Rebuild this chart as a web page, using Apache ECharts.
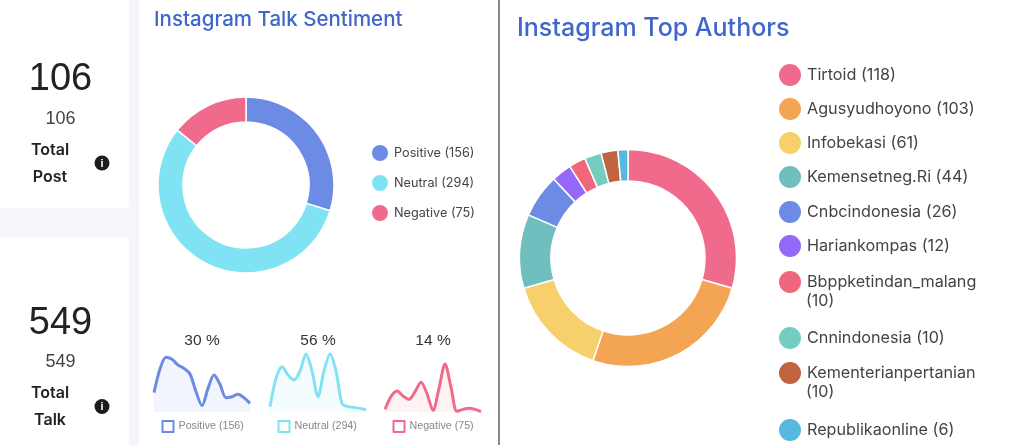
<!DOCTYPE html>
<html><head><meta charset="utf-8">
<style>html,body{margin:0;padding:0;background:#f4f6fb}#c{width:1024px;height:445px}</style>
<script src="https://cdn.jsdelivr.net/npm/echarts@6/dist/echarts.min.js"></script>
</head><body><div id="c"></div>
<script>
const sentimentNames = ['Positive','Neutral','Negative'];
const sentimentValues = [156,294,75];
const sentimentColors = ['#6b8be4','#80e3f3','#f06b8b'];
const sentimentPercents = ['30 %','56 %','14 %'];
const positiveTrend = [57,128,163,157,140,130,113,60,18,70,110,82,42,45,52,42,25];
const neutralTrend = [15,100,135,110,95,122,173,122,45,122,173,122,25,15,13,10,6];
const negativeTrend = [7,45,62,47,37,60,88,54,4,70,143,74,1,7,10,7,0];
const trendSteps = ['1','2','3','4','5','6','7','8','9','10','11','12','13','14','15','16','17'];
const authorNames = ['Tirtoid','Agusyudhoyono','Infobekasi','Kemensetneg.Ri','Cnbcindonesia','Hariankompas','Bbppketindan_malang','Cnnindonesia','Kementerianpertanian','Republikaonline'];
const authorValues = [118,103,61,44,26,12,10,10,10,6];
const authorColors = ['#f06b8b','#f4a553','#f8d06b','#6fbfbf','#6b8be4','#9468f8','#f0667a','#75cdc2','#c0643f','#55b9e0'];
const authorWrapped = [6,8];
const authorRows = [74,108,142,176,211,245,281,337,372,429];
const trends = [positiveTrend,neutralTrend,negativeTrend];
const statCards = [
  {big:'106',small:'106',l1:'Total',l2:'Post'},
  {big:'549',small:'549',l1:'Total',l2:'Talk'}
];
const POP = 'Inter, "Noto Sans", sans-serif';
const HEL = '"Liberation Sans", Arial, sans-serif';
const sentLabels = sentimentNames.map((n,i)=>`${n} (${sentimentValues[i]})`);
const authLabels = authorNames.map((n,i)=>`${n} (${authorValues[i]})`);

const g = [];
const txt = (text,x,y,font,fill,align='center') => g.push({type:'text',z:5,style:{text,x,y,font,fill,align,verticalAlign:'middle'}});
const rect = (x,y,w,h,fill,r=0) => g.push({type:'rect',z:0,shape:{x,y,width:w,height:h,r},style:{fill}});
rect(-10,-10,139,218,'#ffffff',4);
rect(-10,237,139,220,'#ffffff',4);
rect(139,0,359,445,'#ffffff');
rect(498,0,2,445,'#8a8a8a');
rect(500,0,524,445,'#ffffff');
statCards.forEach((c,i)=>{
  const o = i*243.5;
  txt(c.big,60.5,80+o,'38px '+HEL,'#222');
  txt(c.small,60.5,119+o,'18px '+HEL,'#444');
  txt(c.l1,50,150+o,'600 16px '+POP,'#222');
  txt(c.l2,50,177+o,'600 16px '+POP,'#222');
  g.push({type:'circle',z:5,shape:{cx:102,cy:163+o,r:7.5},style:{fill:'#1c1c1c'}});
  txt('i',102,163.5+o,'bold 11px '+HEL,'#fff');
});
txt('Instagram Talk Sentiment',154,20,'500 20.5px '+POP,'#3f66c9','left');
txt('Instagram Top Authors',517,28,'500 25px '+POP,'#3f66c9','left');
const sparkX = [154,270,385];
sentimentPercents.forEach((p,i)=>txt(p,[202,318,433][i],341,'15.5px '+HEL,'#333'));
authorWrapped.forEach(i=>txt(`(${authorValues[i]})`,806,authorRows[i]+20,'16px '+POP,'#444','left'));

const series = [
  {type:'pie',name:'sentiment',center:[246,185],radius:[63,88],startAngle:90,label:{show:false},labelLine:{show:false},silent:true,
   itemStyle:{borderColor:'#fff',borderWidth:1.5},
   data:sentLabels.map((n,i)=>({name:n,value:sentimentValues[i],itemStyle:{color:sentimentColors[i]}}))},
  {type:'pie',name:'authors',center:[628,258],radius:[77,108.5],startAngle:90,label:{show:false},labelLine:{show:false},silent:true,
   itemStyle:{borderColor:'#fff',borderWidth:1.5},
   data:authLabels.map((n,i)=>({name:n,value:authorValues[i],itemStyle:{color:authorColors[i]}}))}
];
const grid=[],xAxis=[],yAxis=[];
trends.forEach((d,i)=>{
  grid.push({left:sparkX[i],top:353,width:96,height:58.7});
  xAxis.push({type:'category',gridIndex:i,data:trendSteps,boundaryGap:false,show:false});
  yAxis.push({type:'value',gridIndex:i,min:0,max:176,show:false});
  series.push({type:'line',xAxisIndex:i,yAxisIndex:i,data:d,smooth:0.3,symbol:'none',silent:true,
    lineStyle:{color:sentimentColors[i],width:3},
    areaStyle:{color:sentimentColors[i],opacity:0.09}});
});
const legend = [
  {left:370,top:143,padding:0,orient:'vertical',itemWidth:18,itemHeight:18,itemGap:10,icon:'circle',selectedMode:false,
   textStyle:{fontFamily:POP,fontSize:12.7,color:'#444'},data:sentLabels}
];
sentLabels.forEach((n,i)=>legend.push({
  left:[161.5,277.5,392.5][i],top:420,padding:0,itemWidth:11,itemHeight:11,selectedMode:false,icon:'rect',
  textStyle:{fontFamily:HEL,fontSize:10.7,color:'#888'},
  data:[{name:n,itemStyle:{color:'transparent',borderColor:sentimentColors[i],borderWidth:2}}]
}));
authLabels.forEach((n,i)=>legend.push({
  left:777,top:authorRows[i]-12,padding:0,itemWidth:24,itemHeight:24,icon:'circle',selectedMode:false,
  textStyle:{fontFamily:POP,fontSize:16.2,color:'#444'},
  formatter:authorWrapped.includes(i)?authorNames[i]:n,
  data:[n]
}));
const chart = echarts.init(document.getElementById('c'),null,{renderer:'canvas'});
chart.setOption({animation:false,backgroundColor:'#f4f6fb',graphic:{elements:g},grid,xAxis,yAxis,legend,series});
</script></body></html>
